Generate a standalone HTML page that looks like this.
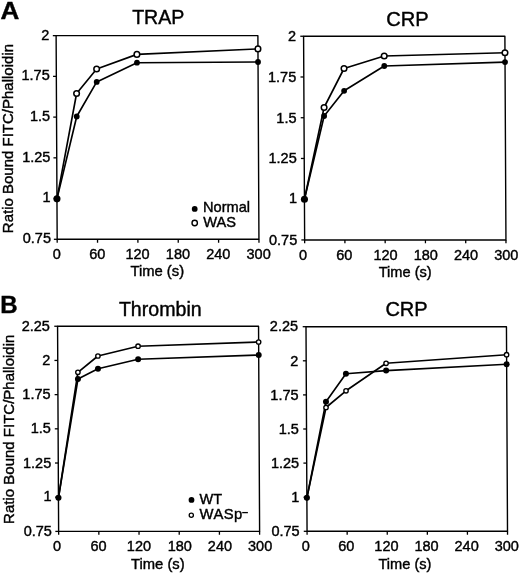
<!DOCTYPE html>
<html><head><meta charset="utf-8"><title>Figure</title>
<style>
html,body{margin:0;padding:0;background:#fff;}
svg{display:block;font-family:"Liberation Sans", sans-serif;fill:#000;will-change:transform;filter:grayscale(1);}
svg text{stroke:#000;stroke-width:0.4px;}
</style></head>
<body>
<svg width="520" height="573" viewBox="0 0 520 573">
<rect width="520" height="573" fill="#fff"/>
<polygon points="56.12,35.65 257.89,35.65 258.94,239.30 57.17,239.30" fill="none" stroke="#000" stroke-width="1.4" stroke-linejoin="round"/>
<line x1="52.82" y1="35.65" x2="56.12" y2="35.65" stroke="#000" stroke-width="1.3"/>
<text x="49.45" y="39.65" font-size="14.5" text-anchor="end" font-weight="normal" >2</text>
<line x1="53.03" y1="76.38" x2="56.33" y2="76.38" stroke="#000" stroke-width="1.3"/>
<text x="49.76" y="80.38" font-size="14.5" text-anchor="end" font-weight="normal" >1.75</text>
<line x1="53.24" y1="117.11" x2="56.54" y2="117.11" stroke="#000" stroke-width="1.3"/>
<text x="50.07" y="121.11" font-size="14.5" text-anchor="end" font-weight="normal" >1.5</text>
<line x1="53.45" y1="157.84" x2="56.75" y2="157.84" stroke="#000" stroke-width="1.3"/>
<text x="50.38" y="161.84" font-size="14.5" text-anchor="end" font-weight="normal" >1.25</text>
<line x1="53.66" y1="198.57" x2="56.96" y2="198.57" stroke="#000" stroke-width="1.3"/>
<text x="50.69" y="201.67" font-size="14.5" text-anchor="end" font-weight="normal" >1</text>
<line x1="53.87" y1="239.30" x2="57.17" y2="239.30" stroke="#000" stroke-width="1.3"/>
<text x="51.00" y="243.30" font-size="14.5" text-anchor="end" font-weight="normal" >0.75</text>
<line x1="57.17" y1="239.30" x2="57.19" y2="242.70" stroke="#000" stroke-width="1.3"/>
<text x="56.89" y="258.60" font-size="14.5" text-anchor="middle" font-weight="normal" >0</text>
<line x1="97.53" y1="239.30" x2="97.55" y2="242.70" stroke="#000" stroke-width="1.3"/>
<text x="97.25" y="258.60" font-size="14.5" text-anchor="middle" font-weight="normal" >60</text>
<line x1="137.88" y1="239.30" x2="137.90" y2="242.70" stroke="#000" stroke-width="1.3"/>
<text x="137.60" y="258.60" font-size="14.5" text-anchor="middle" font-weight="normal" >120</text>
<line x1="178.24" y1="239.30" x2="178.25" y2="242.70" stroke="#000" stroke-width="1.3"/>
<text x="177.95" y="258.60" font-size="14.5" text-anchor="middle" font-weight="normal" >180</text>
<line x1="218.59" y1="239.30" x2="218.61" y2="242.70" stroke="#000" stroke-width="1.3"/>
<text x="218.31" y="258.60" font-size="14.5" text-anchor="middle" font-weight="normal" >240</text>
<line x1="258.94" y1="239.30" x2="258.96" y2="242.70" stroke="#000" stroke-width="1.3"/>
<text x="258.66" y="258.60" font-size="14.5" text-anchor="middle" font-weight="normal" >300</text>
<text x="158.30" y="24.40" font-size="19.6" text-anchor="middle" font-weight="normal" >TRAP</text>
<text x="130.40" y="275.80" font-size="14.8" text-anchor="start" font-weight="normal" >Time (s)</text>
<polyline points="56.96,198.85 76.59,93.50 96.64,69.00 136.92,54.40 257.95,48.90" fill="none" stroke="#000" stroke-width="1.65" stroke-linejoin="round"/>
<polyline points="56.96,198.85 76.71,116.50 96.71,81.90 136.96,62.70 258.02,62.00" fill="none" stroke="#000" stroke-width="1.65" stroke-linejoin="round"/>
<circle cx="76.59" cy="93.50" r="2.8" fill="#fff" stroke="#000" stroke-width="1.5"/>
<circle cx="96.64" cy="69.00" r="2.8" fill="#fff" stroke="#000" stroke-width="1.5"/>
<circle cx="136.92" cy="54.40" r="2.8" fill="#fff" stroke="#000" stroke-width="1.5"/>
<circle cx="257.95" cy="48.90" r="2.8" fill="#fff" stroke="#000" stroke-width="1.5"/>
<circle cx="56.96" cy="198.85" r="3.55" fill="#000"/>
<circle cx="76.71" cy="116.50" r="2.9" fill="#000"/>
<circle cx="96.71" cy="81.90" r="2.9" fill="#000"/>
<circle cx="136.96" cy="62.70" r="2.9" fill="#000"/>
<circle cx="258.02" cy="62.00" r="2.9" fill="#000"/>
<polygon points="303.59,36.25 504.89,36.25 505.95,239.95 304.65,239.95" fill="none" stroke="#000" stroke-width="1.4" stroke-linejoin="round"/>
<line x1="300.29" y1="36.25" x2="303.59" y2="36.25" stroke="#000" stroke-width="1.3"/>
<text x="296.00" y="41.05" font-size="14.5" text-anchor="end" font-weight="normal" >2</text>
<line x1="300.50" y1="76.99" x2="303.80" y2="76.99" stroke="#000" stroke-width="1.3"/>
<text x="296.25" y="81.79" font-size="14.5" text-anchor="end" font-weight="normal" >1.75</text>
<line x1="300.71" y1="117.73" x2="304.01" y2="117.73" stroke="#000" stroke-width="1.3"/>
<text x="296.50" y="122.53" font-size="14.5" text-anchor="end" font-weight="normal" >1.5</text>
<line x1="300.92" y1="158.47" x2="304.22" y2="158.47" stroke="#000" stroke-width="1.3"/>
<text x="296.75" y="163.27" font-size="14.5" text-anchor="end" font-weight="normal" >1.25</text>
<line x1="301.14" y1="199.21" x2="304.44" y2="199.21" stroke="#000" stroke-width="1.3"/>
<text x="297.00" y="203.21" font-size="14.5" text-anchor="end" font-weight="normal" >1</text>
<line x1="301.35" y1="239.95" x2="304.65" y2="239.95" stroke="#000" stroke-width="1.3"/>
<text x="297.25" y="244.75" font-size="14.5" text-anchor="end" font-weight="normal" >0.75</text>
<line x1="304.65" y1="239.95" x2="304.67" y2="243.35" stroke="#000" stroke-width="1.3"/>
<text x="302.97" y="259.60" font-size="14.5" text-anchor="middle" font-weight="normal" >0</text>
<line x1="344.91" y1="239.95" x2="344.93" y2="243.35" stroke="#000" stroke-width="1.3"/>
<text x="344.23" y="259.60" font-size="14.5" text-anchor="middle" font-weight="normal" >60</text>
<line x1="385.17" y1="239.95" x2="385.19" y2="243.35" stroke="#000" stroke-width="1.3"/>
<text x="385.49" y="259.60" font-size="14.5" text-anchor="middle" font-weight="normal" >120</text>
<line x1="425.43" y1="239.95" x2="425.45" y2="243.35" stroke="#000" stroke-width="1.3"/>
<text x="425.75" y="259.60" font-size="14.5" text-anchor="middle" font-weight="normal" >180</text>
<line x1="465.69" y1="239.95" x2="465.71" y2="243.35" stroke="#000" stroke-width="1.3"/>
<text x="466.01" y="259.60" font-size="14.5" text-anchor="middle" font-weight="normal" >240</text>
<line x1="505.95" y1="239.95" x2="505.97" y2="243.35" stroke="#000" stroke-width="1.3"/>
<text x="506.27" y="259.60" font-size="14.5" text-anchor="middle" font-weight="normal" >300</text>
<text x="407.40" y="25.80" font-size="20.1" text-anchor="middle" font-weight="normal" >CRP</text>
<text x="378.70" y="276.70" font-size="14.6" text-anchor="start" font-weight="normal" >Time (s)</text>
<polyline points="304.44,199.21 324.09,107.50 344.02,68.50 384.21,56.00 504.97,52.70" fill="none" stroke="#000" stroke-width="1.65" stroke-linejoin="round"/>
<polyline points="304.44,199.21 324.13,116.00 344.13,90.80 384.26,66.00 505.02,62.10" fill="none" stroke="#000" stroke-width="1.65" stroke-linejoin="round"/>
<circle cx="324.09" cy="107.50" r="2.8" fill="#fff" stroke="#000" stroke-width="1.5"/>
<circle cx="344.02" cy="68.50" r="2.8" fill="#fff" stroke="#000" stroke-width="1.5"/>
<circle cx="384.21" cy="56.00" r="2.8" fill="#fff" stroke="#000" stroke-width="1.5"/>
<circle cx="504.97" cy="52.70" r="2.8" fill="#fff" stroke="#000" stroke-width="1.5"/>
<circle cx="304.44" cy="199.21" r="3.55" fill="#000"/>
<circle cx="324.13" cy="116.00" r="2.9" fill="#000"/>
<circle cx="344.13" cy="90.80" r="2.9" fill="#000"/>
<circle cx="384.26" cy="66.00" r="2.9" fill="#000"/>
<circle cx="505.02" cy="62.10" r="2.9" fill="#000"/>
<polygon points="57.57,326.25 258.55,326.25 259.61,531.40 58.63,531.40" fill="none" stroke="#000" stroke-width="1.4" stroke-linejoin="round"/>
<line x1="54.27" y1="326.25" x2="57.57" y2="326.25" stroke="#000" stroke-width="1.3"/>
<text x="49.90" y="330.55" font-size="14.5" text-anchor="end" font-weight="normal" >2.25</text>
<line x1="54.44" y1="360.44" x2="57.74" y2="360.44" stroke="#000" stroke-width="1.3"/>
<text x="50.23" y="364.74" font-size="14.5" text-anchor="end" font-weight="normal" >2</text>
<line x1="54.62" y1="394.63" x2="57.92" y2="394.63" stroke="#000" stroke-width="1.3"/>
<text x="50.57" y="399.23" font-size="14.5" text-anchor="end" font-weight="normal" >1.75</text>
<line x1="54.80" y1="428.82" x2="58.10" y2="428.82" stroke="#000" stroke-width="1.3"/>
<text x="50.90" y="433.43" font-size="14.5" text-anchor="end" font-weight="normal" >1.5</text>
<line x1="54.98" y1="463.02" x2="58.28" y2="463.02" stroke="#000" stroke-width="1.3"/>
<text x="51.23" y="467.62" font-size="14.5" text-anchor="end" font-weight="normal" >1.25</text>
<line x1="55.16" y1="497.21" x2="58.46" y2="497.21" stroke="#000" stroke-width="1.3"/>
<text x="51.57" y="501.21" font-size="14.5" text-anchor="end" font-weight="normal" >1</text>
<line x1="55.33" y1="531.40" x2="58.63" y2="531.40" stroke="#000" stroke-width="1.3"/>
<text x="51.90" y="535.70" font-size="14.5" text-anchor="end" font-weight="normal" >0.75</text>
<line x1="58.63" y1="531.40" x2="58.65" y2="534.80" stroke="#000" stroke-width="1.3"/>
<text x="57.05" y="550.70" font-size="14.5" text-anchor="middle" font-weight="normal" >0</text>
<line x1="98.83" y1="531.40" x2="98.85" y2="534.80" stroke="#000" stroke-width="1.3"/>
<text x="98.55" y="550.70" font-size="14.5" text-anchor="middle" font-weight="normal" >60</text>
<line x1="139.03" y1="531.40" x2="139.04" y2="534.80" stroke="#000" stroke-width="1.3"/>
<text x="138.94" y="550.70" font-size="14.5" text-anchor="middle" font-weight="normal" >120</text>
<line x1="179.22" y1="531.40" x2="179.24" y2="534.80" stroke="#000" stroke-width="1.3"/>
<text x="179.74" y="550.70" font-size="14.5" text-anchor="middle" font-weight="normal" >180</text>
<line x1="219.42" y1="531.40" x2="219.43" y2="534.80" stroke="#000" stroke-width="1.3"/>
<text x="219.93" y="550.70" font-size="14.5" text-anchor="middle" font-weight="normal" >240</text>
<line x1="259.61" y1="531.40" x2="259.63" y2="534.80" stroke="#000" stroke-width="1.3"/>
<text x="260.13" y="550.70" font-size="14.5" text-anchor="middle" font-weight="normal" >300</text>
<text x="160.30" y="315.90" font-size="19.6" text-anchor="middle" font-weight="normal" >Thrombin</text>
<text x="131.00" y="568.50" font-size="14.8" text-anchor="start" font-weight="normal" >Time (s)</text>
<polyline points="58.46,497.85 77.90,372.30 97.92,356.00 138.06,346.20 258.63,342.00" fill="none" stroke="#000" stroke-width="1.65" stroke-linejoin="round"/>
<polyline points="58.46,497.85 77.94,379.00 97.98,368.80 138.13,359.20 258.70,355.10" fill="none" stroke="#000" stroke-width="1.65" stroke-linejoin="round"/>
<circle cx="77.90" cy="372.30" r="2.2" fill="#fff" stroke="#000" stroke-width="1.35"/>
<circle cx="97.92" cy="356.00" r="2.2" fill="#fff" stroke="#000" stroke-width="1.35"/>
<circle cx="138.06" cy="346.20" r="2.2" fill="#fff" stroke="#000" stroke-width="1.35"/>
<circle cx="258.63" cy="342.00" r="2.2" fill="#fff" stroke="#000" stroke-width="1.35"/>
<circle cx="58.46" cy="497.85" r="3.05" fill="#000"/>
<circle cx="77.94" cy="379.00" r="3.0" fill="#000"/>
<circle cx="97.98" cy="368.80" r="3.0" fill="#000"/>
<circle cx="138.13" cy="359.20" r="3.0" fill="#000"/>
<circle cx="258.70" cy="355.10" r="3.0" fill="#000"/>
<polygon points="306.00,326.70 506.45,326.70 507.51,531.30 307.06,531.30" fill="none" stroke="#000" stroke-width="1.4" stroke-linejoin="round"/>
<line x1="302.70" y1="326.70" x2="306.00" y2="326.70" stroke="#000" stroke-width="1.3"/>
<text x="298.05" y="331.40" font-size="14.5" text-anchor="end" font-weight="normal" >2.25</text>
<line x1="302.88" y1="360.80" x2="306.18" y2="360.80" stroke="#000" stroke-width="1.3"/>
<text x="298.32" y="365.50" font-size="14.5" text-anchor="end" font-weight="normal" >2</text>
<line x1="303.05" y1="394.90" x2="306.35" y2="394.90" stroke="#000" stroke-width="1.3"/>
<text x="298.58" y="399.60" font-size="14.5" text-anchor="end" font-weight="normal" >1.75</text>
<line x1="303.23" y1="429.00" x2="306.53" y2="429.00" stroke="#000" stroke-width="1.3"/>
<text x="298.85" y="433.70" font-size="14.5" text-anchor="end" font-weight="normal" >1.5</text>
<line x1="303.41" y1="463.10" x2="306.71" y2="463.10" stroke="#000" stroke-width="1.3"/>
<text x="299.12" y="467.80" font-size="14.5" text-anchor="end" font-weight="normal" >1.25</text>
<line x1="303.59" y1="497.20" x2="306.89" y2="497.20" stroke="#000" stroke-width="1.3"/>
<text x="299.38" y="501.60" font-size="14.5" text-anchor="end" font-weight="normal" >1</text>
<line x1="303.76" y1="531.30" x2="307.06" y2="531.30" stroke="#000" stroke-width="1.3"/>
<text x="299.65" y="536.00" font-size="14.5" text-anchor="end" font-weight="normal" >0.75</text>
<line x1="307.06" y1="531.30" x2="307.08" y2="534.70" stroke="#000" stroke-width="1.3"/>
<text x="305.78" y="551.20" font-size="14.5" text-anchor="middle" font-weight="normal" >0</text>
<line x1="347.15" y1="531.30" x2="347.17" y2="534.70" stroke="#000" stroke-width="1.3"/>
<text x="346.37" y="551.20" font-size="14.5" text-anchor="middle" font-weight="normal" >60</text>
<line x1="387.24" y1="531.30" x2="387.26" y2="534.70" stroke="#000" stroke-width="1.3"/>
<text x="386.46" y="551.20" font-size="14.5" text-anchor="middle" font-weight="normal" >120</text>
<line x1="427.33" y1="531.30" x2="427.35" y2="534.70" stroke="#000" stroke-width="1.3"/>
<text x="426.55" y="551.20" font-size="14.5" text-anchor="middle" font-weight="normal" >180</text>
<line x1="467.42" y1="531.30" x2="467.44" y2="534.70" stroke="#000" stroke-width="1.3"/>
<text x="466.64" y="551.20" font-size="14.5" text-anchor="middle" font-weight="normal" >240</text>
<line x1="507.51" y1="531.30" x2="507.53" y2="534.70" stroke="#000" stroke-width="1.3"/>
<text x="506.73" y="551.20" font-size="14.5" text-anchor="middle" font-weight="normal" >300</text>
<text x="406.50" y="316.00" font-size="20.0" text-anchor="middle" font-weight="normal" >CRP</text>
<text x="378.50" y="569.00" font-size="14.6" text-anchor="start" font-weight="normal" >Time (s)</text>
<polyline points="306.89,497.85 326.01,407.50 346.02,390.80 386.07,363.30 506.59,354.70" fill="none" stroke="#000" stroke-width="1.65" stroke-linejoin="round"/>
<polyline points="306.89,497.85 325.98,401.70 345.93,373.80 386.11,370.60 506.64,364.20" fill="none" stroke="#000" stroke-width="1.65" stroke-linejoin="round"/>
<circle cx="326.01" cy="407.50" r="2.2" fill="#fff" stroke="#000" stroke-width="1.35"/>
<circle cx="346.02" cy="390.80" r="2.2" fill="#fff" stroke="#000" stroke-width="1.35"/>
<circle cx="386.07" cy="363.30" r="2.2" fill="#fff" stroke="#000" stroke-width="1.35"/>
<circle cx="506.59" cy="354.70" r="2.2" fill="#fff" stroke="#000" stroke-width="1.35"/>
<circle cx="306.89" cy="497.85" r="3.05" fill="#000"/>
<circle cx="325.98" cy="401.70" r="3.0" fill="#000"/>
<circle cx="345.93" cy="373.80" r="3.0" fill="#000"/>
<circle cx="386.11" cy="370.60" r="3.0" fill="#000"/>
<circle cx="506.64" cy="364.20" r="3.0" fill="#000"/>
<text transform="translate(0.55,18.8) scale(1.06,1)" font-size="24.6" font-weight="bold">A</text>
<text x="0.20" y="312.90" font-size="24" text-anchor="start" font-weight="bold" >B</text>
<text transform="translate(13.4,233.2) rotate(-90)" font-size="15">Ratio Bound FITC/Phalloidin</text>
<text transform="translate(14.2,523.9) rotate(-90)" font-size="15">Ratio Bound FITC/Phalloidin</text>
<circle cx="194.7" cy="208.9" r="2.9" fill="#000"/>
<circle cx="194.7" cy="223.0" r="2.7" fill="#fff" stroke="#000" stroke-width="1.4"/>
<text x="203.00" y="212.30" font-size="14.6" text-anchor="start" font-weight="normal" >Normal</text>
<text x="203.30" y="227.40" font-size="14.6" text-anchor="start" font-weight="normal" >WAS</text>
<circle cx="191.5" cy="499.9" r="2.9" fill="#000"/>
<circle cx="191.3" cy="515.3" r="2.1" fill="#fff" stroke="#000" stroke-width="1.3"/>
<text x="199.60" y="503.60" font-size="14.5" text-anchor="start" font-weight="normal" >WT</text>
<text x="199.60" y="518.80" font-size="14.8" text-anchor="start" font-weight="normal" letter-spacing="0.45">WASp</text>
<line x1="242.20" y1="512.60" x2="247.90" y2="512.60" stroke="#000" stroke-width="1.3"/>
</svg>
</body></html>
